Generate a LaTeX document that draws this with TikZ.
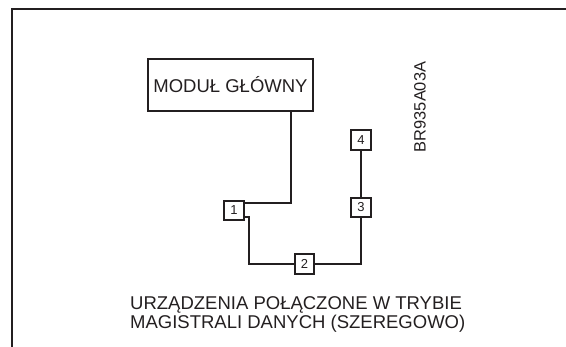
\documentclass[tikz,border=0pt]{standalone}
\usepackage{fontspec}
\setmainfont{Liberation Sans}
\usetikzlibrary{positioning}
\definecolor{Druk}{RGB}{35,31,32}

\begin{document}
\begin{tikzpicture}[
  x=1pt, y=-1pt,
  modul/.style={
    rectangle, draw=Druk, line width=2pt,
    text=Druk, font=\fontsize{18.5}{20}\selectfont,
    minimum width=165pt, minimum height=52pt,
    inner sep=0pt
  },
  urzadz/.style={
    rectangle, draw=Druk, line width=2pt,
    text=Druk, font=\fontsize{13}{14}\selectfont,
    minimum size=19.5pt, inner sep=0pt
  },
  polacz/.style={
    draw=Druk, line width=1.9pt
  },
  rama/.style={
    draw=Druk, line width=1.3pt
  }
]
\useasboundingbox (0,0) rectangle (566,347);
\draw[rama] (566,9) -| (12,347);

\node[modul] (glowny) at (230.5,85) {MODUŁ GŁÓWNY};
\node[urzadz] (d1) at (234,210.5) {1};
\node[urzadz] (d2) at (304.5,264) {2};
\node[urzadz] (d3) at (361,207.5) {3};
\node[urzadz, above=46pt of d3] (d4) {4};

\node[text=Druk, font=\fontsize{16.4}{18}\selectfont, rotate=90] (kod) at (420,107) {BR935A03A};

\node[text=Druk, font=\fontsize{18.5}{19}\selectfont, align=left,
      anchor=north west, inner sep=0pt] (opis) at (130,296.5)
  {URZĄDZENIA POŁĄCZONE W TRYBIE\\MAGISTRALI DANYCH (SZEREGOWO)};

\draw[polacz] ([yshift=7.5pt]d1.east) -| ([xshift=60.5pt]glowny.south);
\draw[polacz] ([yshift=-6.5pt]d1.east) -- ++(4pt,0) |- (d2.west);
\draw[polacz] (d2.east) -| (d3.south);
\draw[polacz] (d3) -- (d4);
\end{tikzpicture}
\end{document}
